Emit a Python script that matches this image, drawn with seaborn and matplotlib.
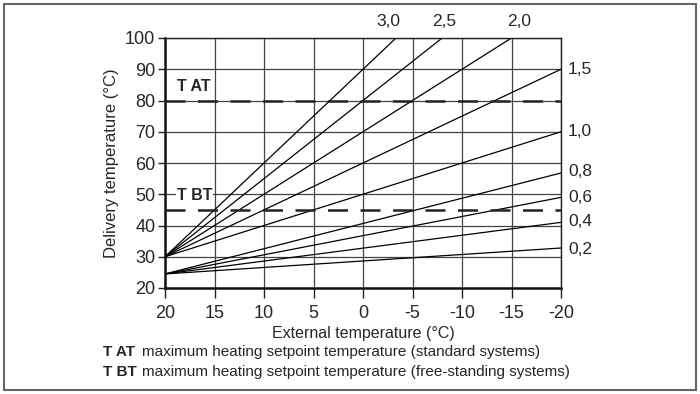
import matplotlib
matplotlib.use("Agg")
import matplotlib.pyplot as plt
import matplotlib.patches as patches
import seaborn as sns
import pandas as pd

# heating curves: delivery temperature at +20 °C and at -20 °C outside
curve_names = ["3,0", "2,5", "2,0", "1,5", "1,0", "0,8", "0,6", "0,4", "0,2"]
start_temps = [30, 30, 30, 30, 30, 24.5, 24.5, 24.5, 24.5]
end_temps = [150, 130, 110, 90, 70, 56.8, 49, 41, 32.8]
ext_range = [20, -20]

t_at = 80
t_bt = 45

x_ticks = [20, 15, 10, 5, 0, -5, -10, -15, -20]
y_ticks = [20, 30, 40, 50, 60, 70, 80, 90, 100]

rows = []
for name, a, b in zip(curve_names, start_temps, end_temps):
    rows.append({"curve": name, "ext": ext_range[0], "delivery": a})
    rows.append({"curve": name, "ext": ext_range[1], "delivery": b})
df = pd.DataFrame(rows)

sns.set_style("white")
plt.rcParams["font.family"] = ["Liberation Sans Narrow", "Liberation Sans", "DejaVu Sans"]

fig = plt.figure(figsize=(7, 3.94), dpi=100)
ax = fig.add_axes([165 / 700, 106 / 394, 396 / 700, 250 / 394])

ax.grid(True, color="#444444", linewidth=0.9)
ax.set_axisbelow(True)

sns.lineplot(data=df, x="ext", y="delivery", hue="curve",
             palette=["black"] * len(curve_names), linewidth=0.9,
             legend=False, ax=ax, sort=False)

for level in [t_at, t_bt]:
    ax.plot(ext_range, [level, level], color="#222222", linewidth=1.8,
            dashes=(8, 5), zorder=3)

ax.set_xlim(20, -20)
ax.set_ylim(20, 100)
ax.set_xticks(x_ticks)
ax.set_yticks(y_ticks)
ax.set_xticklabels([str(v) for v in x_ticks])
ax.tick_params(axis="x", direction="out", length=7, width=1, color="#222222",
               labelsize=13, pad=5, bottom=True)
ax.tick_params(axis="y", direction="out", length=5, width=1, color="#222222",
               labelsize=13, pad=2, left=True)

for side in ["left", "bottom"]:
    ax.spines[side].set_linewidth(1.8)
    ax.spines[side].set_color("#111111")
for side in ["top", "right"]:
    ax.spines[side].set_linewidth(1.0)
    ax.spines[side].set_color("#222222")

ax.set_xlabel("External temperature (°C)", fontsize=11.5, labelpad=3)
ax.set_ylabel("Delivery temperature (°C)", fontsize=12, labelpad=4)

# curve labels above the plot and at its right edge
top_labels = {"3,0": 388, "2,5": 444, "2,0": 519}
for name, px in top_labels.items():
    fig.text(px / 700, 1 - 22 / 394, name, fontsize=12.5, ha="center", va="center")
right_labels = {"1,5": 70, "1,0": 131, "0,8": 172, "0,6": 197, "0,4": 222, "0,2": 250}
for name, py in right_labels.items():
    fig.text(580 / 700, 1 - py / 394, name, fontsize=12.5, ha="center", va="center")

ax.text(18.8, t_at + 2.2, "T AT", fontsize=11.5, fontweight="bold", ha="left", va="bottom")
ax.text(18.8, t_bt + 2.2, "T BT", fontsize=11.5, fontweight="bold", ha="left", va="bottom",
        bbox=dict(facecolor="white", edgecolor="none", pad=0.5))

legend_lines = [("T AT", "maximum heating setpoint temperature (standard systems)", 352),
                ("T BT", "maximum heating setpoint temperature (free-standing systems)", 372)]
for key, desc, py in legend_lines:
    fig.text(103 / 700, 1 - py / 394, key, fontsize=11, fontweight="bold", va="center")
    fig.text(142 / 700, 1 - py / 394, desc, fontsize=11, va="center")

border = patches.Rectangle((4 / 700, 4 / 394), 692 / 700, 386 / 394, transform=fig.transFigure,
                           fill=False, edgecolor="#666666", linewidth=1.5)
fig.add_artist(border)

fig.savefig("out.png", dpi=100)
